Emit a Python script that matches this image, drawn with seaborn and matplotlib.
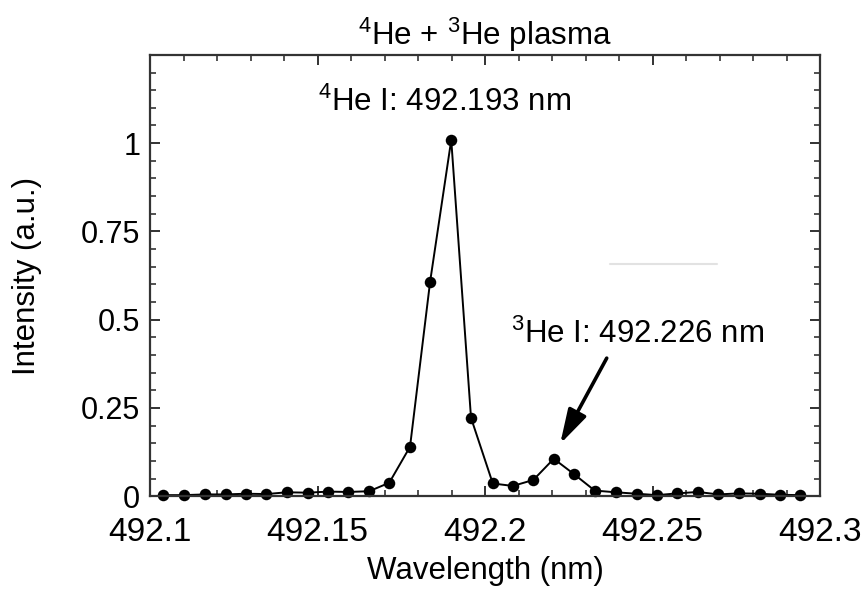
import matplotlib
matplotlib.use("Agg")
import matplotlib.pyplot as plt
import matplotlib.ticker as mticker
import pandas as pd
import seaborn as sns

# wavelength (nm) and intensity
wavelength = [492.1040, 492.1102, 492.1164, 492.1226, 492.1287, 492.1347, 492.1408,
              492.1471, 492.1532, 492.1592, 492.1654, 492.1714, 492.1776, 492.1836,
              492.1899, 492.1958, 492.2023, 492.2083, 492.2144, 492.2205, 492.2266,
              492.2327, 492.2390, 492.2452, 492.2513, 492.2574, 492.2635, 492.2696,
              492.2758, 492.2819, 492.2880, 492.2941]
intensity = [0.003, 0.003, 0.005, 0.005, 0.007, 0.006, 0.011,
             0.010, 0.013, 0.012, 0.014, 0.038, 0.140, 0.608,
             1.009, 0.222, 0.036, 0.029, 0.046, 0.106, 0.062,
             0.016, 0.011, 0.007, 0.003, 0.008, 0.012, 0.005,
             0.008, 0.007, 0.004, 0.003]

# faint grey stroke seen in the original figure
stray_x = [492.2373, 492.2692]
stray_y = [0.657, 0.657]

xticks = [492.1, 492.15, 492.2, 492.25, 492.3]
yticks = [0, 0.25, 0.5, 0.75, 1]

data = pd.DataFrame({"Wavelength": wavelength, "Intensity": intensity})

sns.set_style("ticks")
plt.rcParams["font.family"] = ["Liberation Sans", "DejaVu Sans"]
plt.rcParams["mathtext.fontset"] = "custom"
plt.rcParams["mathtext.rm"] = "Liberation Sans"
plt.rcParams["mathtext.it"] = "Liberation Sans:italic"
plt.rcParams["mathtext.bf"] = "Liberation Sans:bold"
plt.rcParams["text.color"] = "black"
plt.rcParams["axes.labelcolor"] = "black"

fig = plt.figure(figsize=(8.67, 5.9), dpi=100)
ax = fig.add_axes([0.173, 0.159, 0.773, 0.748])

ax.plot(stray_x, stray_y, color="#e2e2e2", lw=1.5)

sns.lineplot(x="Wavelength", y="Intensity", data=data, ax=ax, color="black",
             lw=1.4, marker="o", markersize=8.3, markeredgewidth=0,
             markerfacecolor="black", clip_on=False)

ax.set_xlim(492.1, 492.3)
ax.set_ylim(0, 1.25)
ax.set_xticks(xticks)
ax.set_yticks(yticks)
ax.xaxis.set_major_formatter(mticker.FormatStrFormatter("%g"))
ax.yaxis.set_major_formatter(mticker.FormatStrFormatter("%g"))
ax.xaxis.set_minor_locator(mticker.MultipleLocator(0.01))
ax.yaxis.set_minor_locator(mticker.MultipleLocator(0.05))

ax.tick_params(which="both", direction="in", top=True, right=True,
               colors="#222222", labelcolor="black")
ax.tick_params(which="major", length=7, width=1.3)
ax.tick_params(which="minor", length=4, width=1.1)
ax.tick_params(axis="x", which="major", labelsize=24, pad=15)
ax.tick_params(axis="y", which="major", labelsize=22, pad=7)
for s in ax.spines.values():
    s.set_linewidth(1.6)
    s.set_color("#333333")

ax.set_xlabel("Wavelength (nm)", fontsize=22.5)
ax.set_ylabel("Intensity (a.u.)", fontsize=22.5)
ax.xaxis.set_label_coords(0.5, -0.135)
ax.yaxis.set_label_coords(-0.161, 0.5)
ax.set_title("$^4$He + $^3$He plasma", fontsize=22.5, pad=7, color="black")

ax.text(492.1878, 1.091, "$^4$He I: 492.193 nm", fontsize=22.5,
        ha="center", va="baseline")
ax.text(492.2455, 0.435, "$^3$He I: 492.226 nm", fontsize=22.5,
        ha="center", va="baseline")
ax.annotate("", xy=(492.2224, 0.148), xytext=(492.2363, 0.391),
            arrowprops=dict(arrowstyle="-|>,head_length=0.7,head_width=0.2",
                            lw=2.6, color="black", mutation_scale=30,
                            shrinkA=0, shrinkB=0))

fig.savefig("out.png", dpi=100)
